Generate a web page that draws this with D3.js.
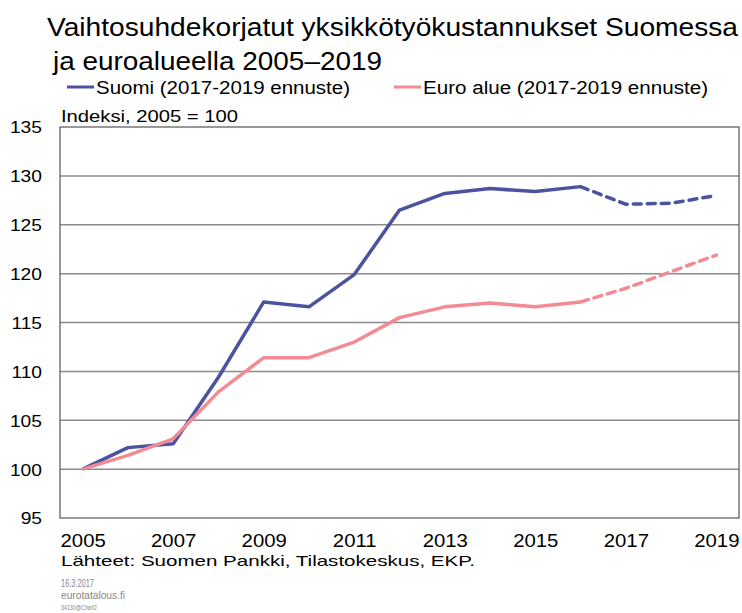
<!DOCTYPE html>
<html>
<head>
<meta charset="utf-8">
<script src="https://cdn.jsdelivr.net/npm/d3@7"></script>
<style>
  body { margin: 0; background: #fff; }
  svg text { font-family: "Liberation Sans", Arial, sans-serif; fill: #000; }
</style>
</head>
<body>
<svg id="chart" width="742" height="613"></svg>
<script>
// data
const years = d3.range(2005, 2020);
const suomi = [100, 102.2, 102.6, 109.4, 117.1, 116.6, 119.9, 126.5, 128.2, 128.7, 128.4, 128.9, 127.1, 127.2, 128.0];
const euro = [100, 101.4, 103.1, 107.9, 111.4, 111.4, 113.0, 115.5, 116.6, 117.0, 116.6, 117.1, 118.5, 120.2, 121.9];
const forecastFrom = 2016;
const yTicks = [95, 100, 105, 110, 115, 120, 125, 130, 135];
const xTicks = [2005, 2007, 2009, 2011, 2013, 2015, 2017, 2019];
const seriesNames = ["Suomi (2017-2019 ennuste)", "Euro alue (2017-2019 ennuste)"];
const colors = ["#4b53a1", "#f28b94"];

const svg = d3.select("#chart");
const plot = {left: 60, right: 739, top: 127, bottom: 518};
const stretchX = 1.13; // the original picture is a bit wider than tall

// widen text glyphs like in the original
function stretch(sel, w) {
    sel.each(function() {
        const len = w || this.getComputedTextLength() * stretchX;
        d3.select(this).attr("textLength", len).attr("lengthAdjust", "spacingAndGlyphs");
    });
}

// title
svg.append("text").attr("x", 47).attr("y", 36)
    .style("font-size", "25px").text("Vaihtosuhdekorjatut yksikkötyökustannukset Suomessa")
    .call(stretch, 691);
svg.append("text").attr("x", 53).attr("y", 70)
    .style("font-size", "25px").text("ja euroalueella 2005\u20132019")
    .call(stretch, 329);

// legend
const legendX = [67, 394];
const legendW = [254, 285];
seriesNames.forEach((name, i) => {
    svg.append("line")
        .attr("x1", legendX[i]).attr("x2", legendX[i] + 27)
        .attr("y1", 87).attr("y2", 87)
        .attr("stroke", colors[i]).attr("stroke-width", 3);
    svg.append("text").attr("x", legendX[i] + 29).attr("y", 94)
        .style("font-size", "18px").text(name)
        .call(stretch, legendW[i]);
});

// scales
const x = d3.scaleLinear().domain([2004.5, 2019.5]).range([plot.left, plot.right]);
const y = d3.scaleLinear().domain([95, 135]).range([plot.bottom, plot.top]);

// gridlines
svg.append("g")
    .selectAll("line").data(yTicks.slice(1, -1)).enter().append("line")
    .attr("x1", plot.left).attr("x2", plot.right)
    .attr("y1", d => y(d)).attr("y2", d => y(d))
    .attr("stroke", "#8c8c8c").attr("stroke-width", 1.5);

// frame
svg.append("rect")
    .attr("x", plot.left).attr("y", plot.top)
    .attr("width", plot.right - plot.left).attr("height", plot.bottom - plot.top)
    .attr("fill", "none").attr("stroke", "#555").attr("stroke-width", 1.2);

// y axis
const yAxis = d3.axisLeft(y).tickValues(yTicks).tickSize(0).tickPadding(0);
const yAxisG = svg.append("g")
    .attr("transform", `translate(${plot.left - 18}, 0)`)
    .call(yAxis);
yAxisG.select(".domain").remove();
yAxisG.selectAll("text")
    .attr("dy", "0.35em")
    .style("font-size", "17px").style("font-family", "Liberation Sans, Arial, sans-serif")
    .call(stretch);

// x axis
const xAxis = d3.axisBottom(x).tickValues(xTicks).tickFormat(d3.format("d")).tickSize(0).tickPadding(0);
const xAxisG = svg.append("g")
    .attr("transform", `translate(0, ${plot.bottom + 16})`)
    .call(xAxis);
xAxisG.select(".domain").remove();
xAxisG.selectAll("text")
    .attr("dy", "0.71em")
    .style("font-size", "18px").style("font-family", "Liberation Sans, Arial, sans-serif")
    .call(stretch);

// unit label
svg.append("text").attr("x", 61).attr("y", 122)
    .style("font-size", "16px").text("Indeksi, 2005 = 100")
    .call(stretch, 177);

// lines
const line = d3.line().x(d => x(d.year)).y(d => y(d.value));
[suomi, euro].forEach((vals, i) => {
    const pts = years.map((yr, j) => ({year: yr, value: vals[j]}));
    svg.append("path")
        .datum(pts.filter(d => d.year <= forecastFrom))
        .attr("d", line)
        .attr("fill", "none").attr("stroke", colors[i])
        .attr("stroke-width", 3.5).attr("stroke-linejoin", "round");
    svg.append("path")
        .datum(pts.filter(d => d.year >= forecastFrom))
        .attr("d", line)
        .attr("fill", "none").attr("stroke", colors[i])
        .attr("stroke-width", 3.5).attr("stroke-dasharray", "8,6")
        .attr("stroke-linecap", "round");
});

// footer
svg.append("text").attr("x", 61).attr("y", 566)
    .style("font-size", "15px").text("Lähteet: Suomen Pankki, Tilastokeskus, EKP.")
    .call(stretch, 414);
svg.append("text").attr("x", 61).attr("y", 587)
    .style("font-size", "11px").style("fill", "#888").text("16.3.2017")
    .call(stretch, 33);
svg.append("text").attr("x", 61).attr("y", 599)
    .style("font-size", "11px").style("fill", "#888").text("eurotatalous.fi")
    .call(stretch, 64);
svg.append("text").attr("x", 61).attr("y", 610)
    .style("font-size", "8px").style("fill", "#888").text("34130@Chart2")
    .call(stretch, 36);
</script>
</body>
</html>
